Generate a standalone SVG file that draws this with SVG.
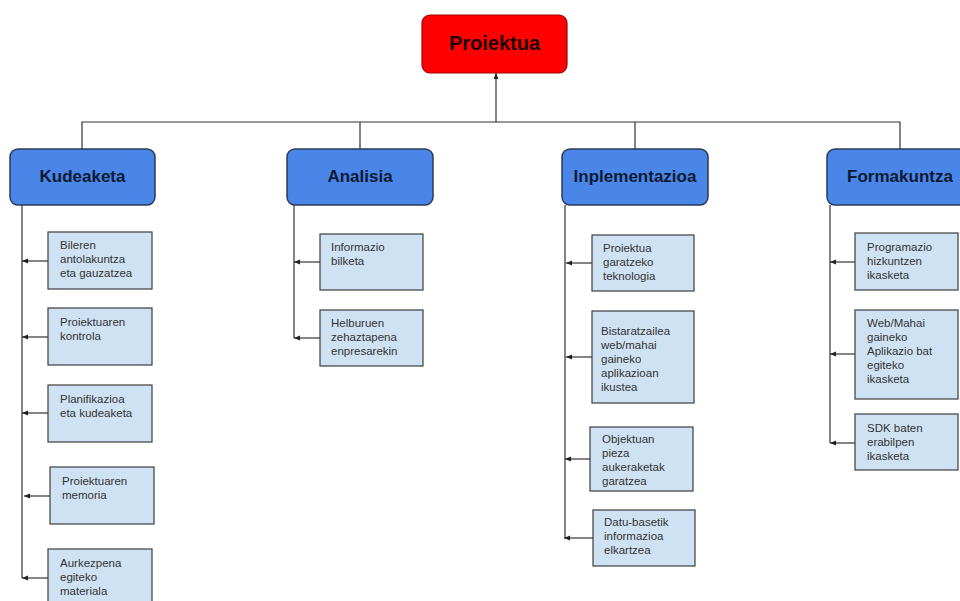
<svg xmlns="http://www.w3.org/2000/svg" width="960" height="601" viewBox="0 0 960 601">
<defs>
<marker id="ah" viewBox="0 0 10 10" refX="10" refY="5" markerWidth="6" markerHeight="6" markerUnits="userSpaceOnUse" orient="auto">
<path d="M0,1 L10,5 L0,9 Z" fill="#222"/>
</marker>
</defs>
<style>
.root{fill:#ff0000;stroke:#a00000;stroke-width:1.2}
.l1{fill:#4a86e8;stroke:#2b3a55;stroke-width:1.5}
.leaf{fill:#cfe2f3;stroke:#3d3d3d;stroke-width:1.2}
.rt{font-family:"Liberation Sans",Arial,sans-serif;font-weight:bold;font-size:20px;fill:#1a0000;text-anchor:middle}
.t1{font-family:"Liberation Sans",Arial,sans-serif;font-weight:bold;font-size:17px;fill:#0d1a33;text-anchor:middle}
.t2{font-family:"Liberation Sans",Arial,sans-serif;font-size:11.5px;fill:#333}
.c{fill:none;stroke:#333;stroke-width:1.2}
</style>
<rect width="960" height="601" fill="#fff"/>
<g id="connectors">
<path class="c" d="M82,149 V122 H900 V149"/>
<path class="c" d="M360,122 V149"/>
<path class="c" d="M635,122 V149"/>
<path class="c" d="M496,122 V73" marker-end="url(#ah)"/>
<path class="c" d="M22,205 V578"/>
<path class="c" d="M48,261 H22" marker-end="url(#ah)"/>
<path class="c" d="M48,337 H22" marker-end="url(#ah)"/>
<path class="c" d="M48,413 H22" marker-end="url(#ah)"/>
<path class="c" d="M50,496 H24" marker-end="url(#ah)"/>
<path class="c" d="M48,578 H22" marker-end="url(#ah)"/>
<path class="c" d="M294,205 V338"/>
<path class="c" d="M320,262 H294" marker-end="url(#ah)"/>
<path class="c" d="M320,338 H294" marker-end="url(#ah)"/>
<path class="c" d="M565,205 V538"/>
<path class="c" d="M592,263 H566" marker-end="url(#ah)"/>
<path class="c" d="M592,357 H566" marker-end="url(#ah)"/>
<path class="c" d="M590,459 H565" marker-end="url(#ah)"/>
<path class="c" d="M593,538 H564" marker-end="url(#ah)"/>
<path class="c" d="M830,205 V443"/>
<path class="c" d="M855,262 H830" marker-end="url(#ah)"/>
<path class="c" d="M855,354 H830" marker-end="url(#ah)"/>
<path class="c" d="M855,443 H830" marker-end="url(#ah)"/>
</g>
<g id="proiektua"><rect class="root" x="422" y="15" width="145" height="58" rx="8"/><text class="rt" x="494.5" y="50">Proiektua</text></g>
<g id="kudeaketa"><rect class="l1" x="10" y="149" width="145" height="56" rx="8"/><text class="t1" x="82.5" y="182">Kudeaketa</text></g>
<g id="analisia"><rect class="l1" x="287" y="149" width="146" height="56" rx="8"/><text class="t1" x="360" y="182">Analisia</text></g>
<g id="inplementazioa"><rect class="l1" x="562" y="149" width="146" height="56" rx="8"/><text class="t1" x="635" y="182">Inplementazioa</text></g>
<g id="formakuntza"><rect class="l1" x="827" y="149" width="146" height="56" rx="8"/><text class="t1" x="900" y="182">Formakuntza</text></g>

<g id="bileren"><rect class="leaf" x="48" y="232" width="104" height="57"/><text class="t2" x="60" y="249">Bileren<tspan x="60" dy="14">antolakuntza</tspan><tspan x="60" dy="14">eta gauzatzea</tspan></text></g>
<g id="kontrola"><rect class="leaf" x="48" y="308" width="104" height="57"/><text class="t2" x="60" y="326">Proiektuaren<tspan x="60" dy="14">kontrola</tspan></text></g>
<g id="planifikazioa"><rect class="leaf" x="48" y="385" width="104" height="57"/><text class="t2" x="60" y="403">Planifikazioa<tspan x="60" dy="14">eta kudeaketa</tspan></text></g>
<g id="memoria"><rect class="leaf" x="50" y="467" width="104" height="57"/><text class="t2" x="62" y="485">Proiektuaren<tspan x="62" dy="14">memoria</tspan></text></g>
<g id="aurkezpena"><rect class="leaf" x="48" y="549" width="104" height="60"/><text class="t2" x="60" y="567">Aurkezpena<tspan x="60" dy="14">egiteko</tspan><tspan x="60" dy="14">materiala</tspan></text></g>

<g id="informazio"><rect class="leaf" x="320" y="234" width="103" height="56"/><text class="t2" x="331" y="251">Informazio<tspan x="331" dy="14">bilketa</tspan></text></g>
<g id="helburuen"><rect class="leaf" x="320" y="310" width="103" height="56"/><text class="t2" x="331" y="327">Helburuen<tspan x="331" dy="14">zehaztapena</tspan><tspan x="331" dy="14">enpresarekin</tspan></text></g>

<g id="teknologia"><rect class="leaf" x="592" y="235" width="102" height="56"/><text class="t2" x="603" y="252">Proiektua<tspan x="603" dy="14">garatzeko</tspan><tspan x="603" dy="14">teknologia</tspan></text></g>
<g id="bistaratzailea"><rect class="leaf" x="592" y="311" width="102" height="92"/><text class="t2" x="601" y="335">Bistaratzailea<tspan x="601" dy="14">web/mahai</tspan><tspan x="601" dy="14">gaineko</tspan><tspan x="601" dy="14">aplikazioan</tspan><tspan x="601" dy="14">ikustea</tspan></text></g>
<g id="objektuan"><rect class="leaf" x="590" y="427" width="103" height="64"/><text class="t2" x="602" y="443">Objektuan<tspan x="602" dy="14">pieza</tspan><tspan x="602" dy="14">aukeraketak</tspan><tspan x="602" dy="14">garatzea</tspan></text></g>
<g id="datubasetik"><rect class="leaf" x="593" y="510" width="102" height="56"/><text class="t2" x="604" y="526">Datu-basetik<tspan x="604" dy="14">informazioa</tspan><tspan x="604" dy="14">elkartzea</tspan></text></g>

<g id="programazio"><rect class="leaf" x="855" y="233" width="103" height="57"/><text class="t2" x="867" y="251">Programazio<tspan x="867" dy="14">hizkuntzen</tspan><tspan x="867" dy="14">ikasketa</tspan></text></g>
<g id="webmahai"><rect class="leaf" x="855" y="310" width="103" height="89"/><text class="t2" x="867" y="327">Web/Mahai<tspan x="867" dy="14">gaineko</tspan><tspan x="867" dy="14">Aplikazio bat</tspan><tspan x="867" dy="14">egiteko</tspan><tspan x="867" dy="14">ikasketa</tspan></text></g>
<g id="sdk"><rect class="leaf" x="855" y="414" width="103" height="56"/><text class="t2" x="867" y="432">SDK baten<tspan x="867" dy="14">erabilpen</tspan><tspan x="867" dy="14">ikasketa</tspan></text></g>
</svg>
